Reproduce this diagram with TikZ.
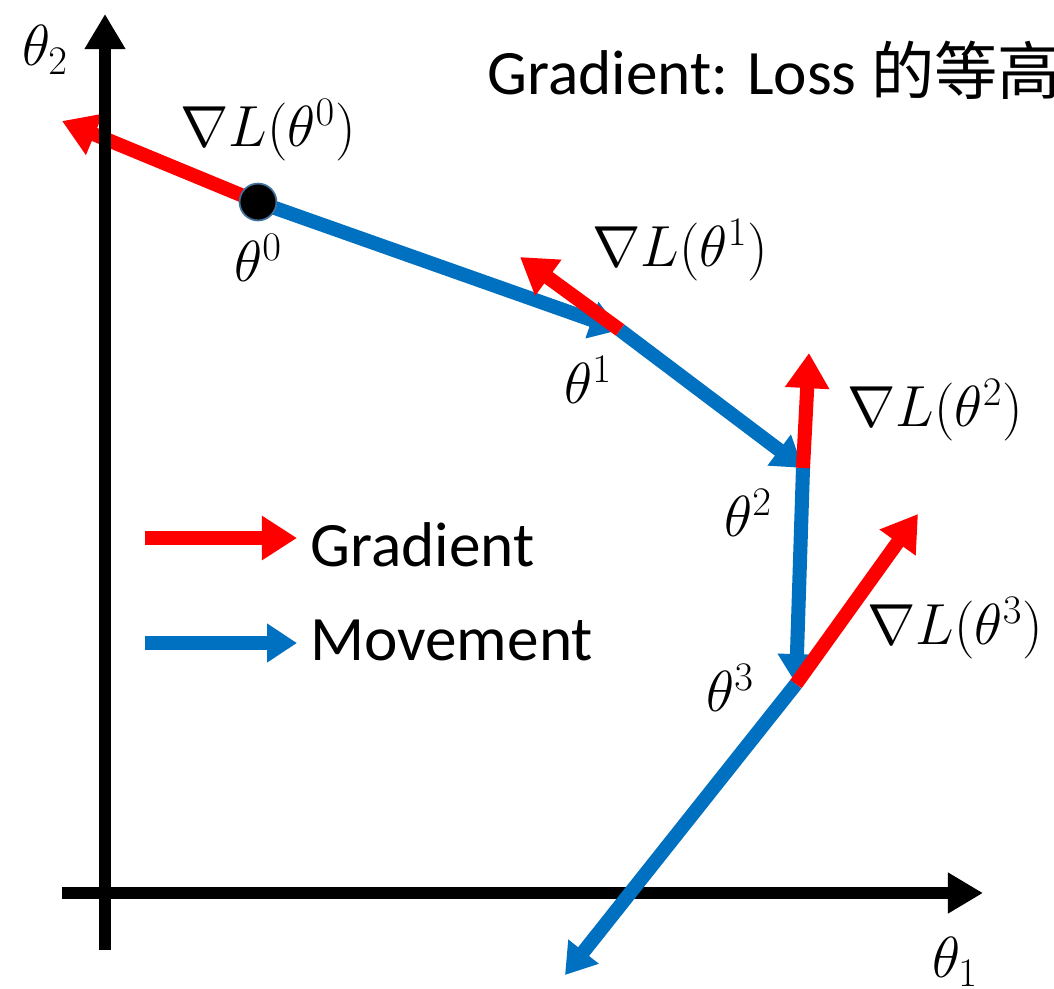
\documentclass[tikz,border=0pt]{standalone}
\usepackage{fix-cm}
\usepackage{fontspec}
\setmainfont{Carlito}
\newfontfamily\cjk{Noto Sans CJK SC}
\usetikzlibrary{arrows.meta}
\definecolor{gdBlue}{HTML}{0070C0}
\definecolor{gdRed}{HTML}{FF0000}
\definecolor{gdRim}{HTML}{41719C}
\tikzset{
  gd axis/.style={draw=black, line width=7pt, -{Triangle[length=20pt,width=22pt]}},
  gd move/.style={draw=gdBlue, line width=8pt, -{Triangle[length=17pt,width=21pt]}},
  gd grad/.style={draw=gdRed, line width=8pt, -{Triangle[length=20pt,width=24pt]}},
  gd point/.style={circle, fill=black, draw=gdRim, line width=1pt, minimum size=21pt, inner sep=0pt},
  gd math/.style={font=\fontsize{33}{40}\selectfont, inner sep=0pt},
  gd text/.style={font=\fontsize{36}{42}\selectfont, inner sep=0pt},
}

\begin{document}
\begin{tikzpicture}[x=0.02cm, y=-0.02cm]
  \useasboundingbox (0,0) rectangle (1054,988);

  % Points of the path and the gradient tips
  \coordinate (t0) at (258,202);
  \coordinate (t1) at (620,330);
  \coordinate (t2) at (803,468);
  \coordinate (t3) at (796,684);
  \coordinate (t4) at (565,975);
  \coordinate (g0) at (62,121);
  \coordinate (g1) at (520,257);
  \coordinate (g2) at (809,353);
  \coordinate (g3) at (918,514);

  % Axes
  \coordinate (o1) at (62,893);
  \coordinate (x1) at (983,893);
  \coordinate (o2) at (105,950);
  \coordinate (y2) at (105,14);

  % Gradient at theta0 lies under the axis
  \draw[gd grad] (t0) -- (g0);
  \draw[gd axis] (o1) -- (x1);
  \draw[gd axis] (o2) -- (y2);
  \node[gd math] (l1) at (955,962) {$\theta_1$};
  \node[gd math] (l2) at (45,50) {$\theta_2$};

  % Movement
  \draw[gd move] (t0) -- (t1);
  \draw[gd move] (t1) -- (t2);
  \draw[gd move] (t2) -- (t3);
  \draw[gd move] (t3) -- (t4);

  % Gradients
  \draw[gd grad] (t1) -- (g1);
  \draw[gd grad] (t2) -- (g2);
  \draw[gd grad] (t3) -- (g3);
  \node[gd point] (p0) at (t0) {};

  % Labels
  \node[gd math] (n0) at (268,130) {$\nabla L(\theta^0)$};
  \node[gd math] (n1) at (680,250) {$\nabla L(\theta^1)$};
  \node[gd math] (n2) at (935,410) {$\nabla L(\theta^2)$};
  \node[gd math] (n3) at (955,628) {$\nabla L(\theta^3)$};
  \node[gd math] (s0) at (258,258) {$\theta^0$};
  \node[gd math] (s1) at (588,380) {$\theta^1$};
  \node[gd math] (s2) at (748,513) {$\theta^2$};
  \node[gd math] (s3) at (730,688) {$\theta^3$};

  % Title
  \node[gd text, anchor=west] (title) at (487,70) {Gradient: Loss {\cjk 的等高}};

  % Legend
  \coordinate (ra) at (145,538);
  \coordinate (rb) at (297,538);
  \coordinate (ba) at (145,643);
  \coordinate (bb) at (297,643);
  \draw[gd grad] (ra) -- (rb);
  \draw[gd move] (ba) -- (bb);
  \node[gd text, anchor=west] (kg) at (310,545) {Gradient};
  \node[gd text, anchor=west] (km) at (310,640) {Movement};
\end{tikzpicture}
\end{document}
